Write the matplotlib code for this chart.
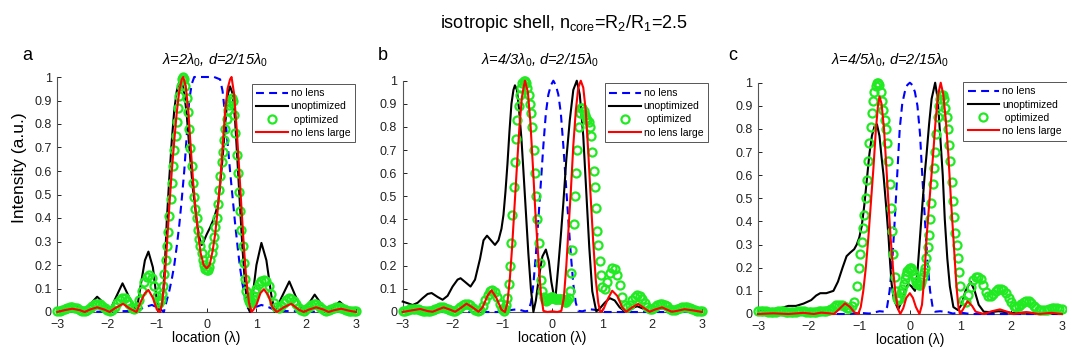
import numpy as np
import matplotlib
matplotlib.use("Agg")
from matplotlib import pyplot as plt

plt.rcParams['font.family'] = ['Liberation Sans', 'DejaVu Sans']
plt.rcParams['mathtext.fontset'] = 'custom'
plt.rcParams['mathtext.rm'] = 'Liberation Sans'
plt.rcParams['mathtext.it'] = 'Liberation Sans:italic'

# ---------------- data ----------------
titles = ['λ=2λ$_0$, d=2/15λ$_0$', 'λ=4/3λ$_0$, d=2/15λ$_0$', 'λ=4/5λ$_0$, d=2/15λ$_0$']
letters = ['a', 'b', 'c']
labels = ['no lens', 'unoptimized', ' optimized', 'no lens large']

# panel a
nolens_a_x = [-3.0, -2.7, -2.4, -1.8, -1.4, -1.25, -1.1, -0.95, -0.86, -0.8, -0.75, -0.7, -0.65, -0.6, -0.55,
              -0.5, -0.45, -0.4, -0.35, -0.3, -0.25, -0.15, 0.0, 0.15, 0.27, 0.32, 0.37, 0.42, 0.47, 0.52,
              0.57, 0.62, 0.67, 0.72, 0.77, 0.82, 0.88, 0.97, 1.1, 1.25, 1.4, 1.8, 2.4, 2.7, 3.0]
nolens_a_y = [0.0, 0.01, 0.0, 0.003, 0.005, 0.02, 0.03, 0.015, 0.0, 0.05, 0.09, 0.14, 0.2, 0.28, 0.37,
              0.48, 0.6, 0.75, 0.9, 0.97, 1.0, 1.0, 1.0, 1.0, 0.99, 0.94, 0.84, 0.72, 0.6, 0.49,
              0.38, 0.28, 0.19, 0.12, 0.06, 0.02, 0.0, 0.02, 0.03, 0.02, 0.005, 0.003, 0.0, 0.01, 0.0]
unopt_a_x = [-3.0, -2.85, -2.7, -2.55, -2.45, -2.35, -2.2, -2.05, -1.95, -1.85, -1.69, -1.55, -1.41, -1.32,
             -1.24, -1.17, -1.08, -1.0, -0.94, -0.88, -0.84, -0.8, -0.75, -0.7, -0.65, -0.6, -0.55, -0.5,
             -0.45, -0.4, -0.34, -0.28, -0.2, -0.15, -0.1, -0.06, 0.0, 0.07, 0.15, 0.23, 0.28, 0.33, 0.38,
             0.43, 0.47, 0.52, 0.57, 0.62, 0.67, 0.72, 0.77, 0.82, 0.87, 0.93, 1.0, 1.1, 1.2, 1.3, 1.37,
             1.5, 1.66, 1.8, 1.94, 2.05, 2.17, 2.3, 2.45, 2.55, 2.67, 2.8, 2.9, 3.0]
unopt_a_y = [0.0, 0.02, 0.035, 0.02, 0.002, 0.03, 0.065, 0.035, 0.003, 0.05, 0.122, 0.06, 0.0, 0.12,
             0.22, 0.257, 0.19, 0.05, 0.0, 0.06, 0.2, 0.39, 0.57, 0.73, 0.86, 0.94, 0.98, 0.98,
             0.93, 0.84, 0.68, 0.53, 0.39, 0.32, 0.285, 0.3, 0.33, 0.36, 0.4, 0.46, 0.56, 0.68, 0.82,
             0.93, 0.96, 0.93, 0.82, 0.64, 0.45, 0.27, 0.12, 0.03, 0.0, 0.08, 0.2, 0.294, 0.22, 0.07, 0.0,
             0.06, 0.13, 0.06, 0.0, 0.035, 0.074, 0.035, 0.0, 0.02, 0.044, 0.02, 0.003, 0.01]
large_a_x = [-3.0, -2.85, -2.7, -2.55, -2.45, -2.35, -2.2, -2.05, -1.95, -1.85, -1.68, -1.55, -1.41, -1.32,
             -1.24, -1.17, -1.08, -1.0, -0.94, -0.9, -0.85, -0.8, -0.75, -0.7, -0.65, -0.6, -0.55, -0.5,
             -0.47, -0.42, -0.37, -0.32, -0.27, -0.22, -0.17, -0.12, -0.06, 0.0, 0.06, 0.12, 0.17, 0.22,
             0.27, 0.32, 0.37, 0.42, 0.47, 0.5, 0.55, 0.6, 0.65, 0.7, 0.75, 0.8, 0.85, 0.9, 0.94, 1.0,
             1.08, 1.15, 1.24, 1.32, 1.41, 1.55, 1.7, 1.85, 1.95, 2.05, 2.2, 2.35, 2.45, 2.55, 2.7, 2.85, 3.0]
large_a_y = [0.0, 0.008, 0.014, 0.008, 0.0, 0.01, 0.02, 0.01, 0.0, 0.015, 0.035, 0.015, 0.0, 0.045,
             0.08, 0.094, 0.06, 0.01, 0.0, 0.03, 0.12, 0.28, 0.45, 0.6, 0.73, 0.85, 0.94, 0.99,
             1.0, 0.96, 0.86, 0.7, 0.55, 0.43, 0.33, 0.25, 0.2, 0.186, 0.2, 0.26, 0.33, 0.43,
             0.55, 0.7, 0.85, 0.95, 0.99, 1.0, 0.93, 0.79, 0.62, 0.44, 0.27, 0.13, 0.04, 0.0, 0.01, 0.03,
             0.08, 0.097, 0.07, 0.02, 0.0, 0.02, 0.035, 0.01, 0.0, 0.01, 0.02, 0.01, 0.0, 0.007, 0.014, 0.006, 0.0]
opt_a = ([0.005, 0.005, 0.008, 0.013, 0.018, 0.02, 0.021, 0.019, 0.015, 0.01,
          0.006, 0.005, 0.008, 0.015, 0.024, 0.032, 0.036, 0.034, 0.027, 0.018,
          0.01, 0.006, 0.01, 0.022, 0.038, 0.052, 0.06, 0.058, 0.047, 0.032,
          0.018, 0.012, 0.022, 0.05, 0.09, 0.127, 0.15, 0.157, 0.145, 0.11,
          0.07]
         + [0.045, 0.04, 0.05, 0.075, 0.11, 0.16, 0.22, 0.28, 0.34, 0.41,
            0.48, 0.55, 0.62, 0.69, 0.75, 0.81, 0.87, 0.92, 0.96, 0.99,
            1.0, 0.99, 0.96, 0.91, 0.85, 0.78, 0.7, 0.62, 0.55, 0.49,
            0.44, 0.4, 0.35, 0.31, 0.28, 0.25, 0.22, 0.2, 0.185, 0.178,
            0.18, 0.19, 0.22, 0.25, 0.28, 0.32, 0.36, 0.4, 0.46, 0.52,
            0.58, 0.64, 0.68, 0.73, 0.78, 0.82, 0.86, 0.88, 0.9, 0.91,
            0.9, 0.84, 0.76, 0.67, 0.59, 0.51, 0.43, 0.35, 0.28, 0.21,
            0.14, 0.09, 0.06, 0.045, 0.04, 0.045, 0.055, 0.07, 0.085]
         + [0.1, 0.12, 0.133, 0.138, 0.13, 0.11, 0.075, 0.04, 0.02, 0.015,
            0.025, 0.04, 0.052, 0.058, 0.056, 0.047, 0.033, 0.018, 0.008, 0.006,
            0.012, 0.022, 0.03, 0.034, 0.032, 0.025, 0.016, 0.009, 0.005, 0.007,
            0.012, 0.018, 0.021, 0.021, 0.018, 0.013, 0.008, 0.005, 0.005, 0.006,
            0.006])

# panel b
nolens_b_x = [-3.0, -1.0, -0.85, -0.7, -0.55, -0.48, -0.43, -0.38, -0.33, -0.28, -0.23, -0.18, -0.13, -0.08,
              -0.03, 0.02, 0.07, 0.12, 0.17, 0.22, 0.27, 0.32, 0.37, 0.42, 0.47, 0.52, 0.6, 0.75, 0.9, 1.05, 3.0]
nolens_b_y = [0.0, 0.0, 0.008, 0.012, 0.003, 0.005, 0.04, 0.12, 0.25, 0.4, 0.56, 0.72, 0.86, 0.94,
              0.98, 1.0, 0.98, 0.94, 0.86, 0.72, 0.56, 0.4, 0.25, 0.12, 0.04, 0.005, 0.003, 0.012, 0.008, 0.0, 0.0]
unopt_b_x = [-3.0, -2.9, -2.8, -2.7, -2.6, -2.5, -2.42, -2.3, -2.2, -2.1, -2.0, -1.9, -1.84, -1.75, -1.64,
             -1.55, -1.45, -1.38, -1.31, -1.23, -1.15, -1.08, -1.02, -0.98, -0.94, -0.9, -0.86, -0.82, -0.78,
             -0.75, -0.71, -0.67, -0.62, -0.58, -0.53, -0.48, -0.43, -0.38, -0.33, -0.27, -0.2, -0.13, -0.07,
             -0.02, 0.03, 0.07, 0.12, 0.17, 0.22, 0.28, 0.35, 0.42, 0.49, 0.55, 0.62, 0.68, 0.74, 0.8, 0.88,
             0.95, 1.05, 1.15, 1.25, 1.35, 1.45, 1.55, 1.7, 1.85, 1.95, 2.05, 2.2, 2.35, 2.45, 2.55, 2.7,
             2.85, 3.0]
unopt_b_y = [0.045, 0.038, 0.03, 0.04, 0.06, 0.078, 0.082, 0.065, 0.053, 0.07, 0.11, 0.14, 0.146, 0.13, 0.11,
             0.14, 0.23, 0.31, 0.33, 0.31, 0.29, 0.31, 0.36, 0.42, 0.52, 0.64, 0.78, 0.9, 0.96,
             0.98, 0.96, 0.88, 0.75, 0.61, 0.43, 0.25, 0.1, 0.0, 0.05, 0.15, 0.24, 0.27, 0.22,
             0.13, 0.07, 0.08, 0.2, 0.33, 0.47, 0.66, 0.83, 0.96, 1.0, 0.94, 0.76, 0.52, 0.28, 0.09, 0.003,
             0.015, 0.04, 0.06, 0.05, 0.02, 0.003, 0.012, 0.025, 0.012, 0.003, 0.008, 0.016, 0.008, 0.002, 0.005,
             0.01, 0.005, 0.002]
large_b_x = [-3.0, -2.85, -2.65, -2.5, -2.4, -2.3, -2.18, -2.05, -1.95, -1.85, -1.72, -1.6, -1.48, -1.4,
             -1.3, -1.22, -1.12, -1.02, -0.95, -0.9, -0.85, -0.81, -0.76, -0.71, -0.66, -0.61, -0.55, -0.49,
             -0.44, -0.39, -0.34, -0.28, -0.23, -0.18, -0.1, 0.0, 0.1, 0.18, 0.23, 0.28, 0.33, 0.37, 0.42,
             0.47, 0.52, 0.57, 0.62, 0.67, 0.72, 0.77, 0.82, 0.87, 0.92, 0.96, 1.02, 1.12, 1.2, 1.3, 1.4,
             1.48, 1.6, 1.72, 1.85, 1.95, 2.05, 2.2, 2.3, 2.4, 2.5, 2.65, 2.85, 3.0]
large_b_y = [0.0, 0.006, 0.013, 0.004, 0.001, 0.01, 0.02, 0.01, 0.001, 0.015, 0.036, 0.02, 0.001, 0.02,
             0.07, 0.094, 0.06, 0.01, 0.0, 0.04, 0.15, 0.27, 0.45, 0.63, 0.8, 0.93, 1.0, 0.95,
             0.82, 0.63, 0.43, 0.23, 0.08, 0.005, 0.0, 0.003, 0.0, 0.005, 0.06, 0.2, 0.38, 0.52, 0.72,
             0.87, 0.97, 1.0, 0.97, 0.87, 0.69, 0.49, 0.3, 0.14, 0.04, 0.0, 0.01, 0.06, 0.092, 0.07, 0.02,
             0.001, 0.02, 0.035, 0.015, 0.001, 0.01, 0.02, 0.01, 0.001, 0.005, 0.012, 0.006, 0.0]
opt_b = ([0.003, 0.005, 0.008, 0.011, 0.012, 0.012, 0.011, 0.009, 0.006, 0.004,
          0.004, 0.006, 0.01, 0.015, 0.019, 0.021, 0.02, 0.017, 0.012, 0.007,
          0.004, 0.006, 0.013, 0.023, 0.031, 0.036, 0.035, 0.029, 0.019, 0.009,
          0.005, 0.01, 0.025, 0.05, 0.075, 0.092, 0.097, 0.088, 0.065, 0.035,
          0.012]
         + [0.006, 0.012, 0.03, 0.06, 0.12, 0.2, 0.3, 0.42, 0.54, 0.65,
            0.75, 0.83, 0.89, 0.94, 0.97, 0.99, 1.0, 1.0, 0.99, 0.97,
            0.94, 0.9, 0.86, 0.8, 0.7, 0.6, 0.5, 0.4, 0.3, 0.21,
            0.14, 0.09, 0.065, 0.052, 0.048, 0.052, 0.058, 0.062, 0.064, 0.063,
            0.06, 0.057, 0.055, 0.055, 0.056, 0.058, 0.058, 0.055, 0.05, 0.045,
            0.045, 0.05, 0.06, 0.09, 0.17, 0.27, 0.38, 0.5, 0.6, 0.7,
            0.8, 0.86, 0.88, 0.88, 0.87, 0.85, 0.84, 0.83, 0.82, 0.8,
            0.76, 0.69, 0.61, 0.54, 0.45, 0.35, 0.29, 0.22, 0.16]
         + [0.11, 0.1, 0.13, 0.17, 0.19, 0.185, 0.16, 0.115, 0.065, 0.03,
            0.02, 0.03, 0.05, 0.066, 0.072, 0.068, 0.055, 0.037, 0.02, 0.011,
            0.012, 0.02, 0.029, 0.035, 0.036, 0.032, 0.024, 0.015, 0.009, 0.008,
            0.011, 0.016, 0.02, 0.022, 0.021, 0.017, 0.012, 0.008, 0.006, 0.006,
            0.005])

# panel c
nolens_c_x = [-3.0, -1.2, -1.0, -0.8, -0.6, -0.5, -0.45, -0.4, -0.35, -0.3, -0.25, -0.2, -0.15, -0.1, -0.05,
              0.0, 0.05, 0.1, 0.15, 0.2, 0.25, 0.3, 0.35, 0.4, 0.45, 0.5, 0.6, 0.75, 0.85, 1.0, 1.2, 3.0]
nolens_c_y = [0.0, 0.0, 0.005, 0.002, 0.012, 0.01, 0.03, 0.1, 0.22, 0.4, 0.6, 0.8, 0.91, 0.96, 0.99,
              1.0, 0.99, 0.96, 0.9, 0.78, 0.58, 0.4, 0.22, 0.1, 0.03, 0.01, 0.012, 0.008, 0.002, 0.006, 0.0, 0.0]
unopt_c_x = [-3.0, -2.75, -2.55, -2.4, -2.25, -2.1, -1.95, -1.85, -1.77, -1.65, -1.51, -1.42, -1.33, -1.25,
             -1.18, -1.1, -1.05, -1.0, -0.95, -0.9, -0.85, -0.8, -0.75, -0.7, -0.65, -0.6, -0.56, -0.52,
             -0.47, -0.42, -0.39, -0.36, -0.32, -0.29, -0.23, -0.17, -0.1, -0.03, 0.03, 0.1, 0.15, 0.2,
             0.25, 0.3, 0.33, 0.38, 0.43, 0.5, 0.55, 0.6, 0.65, 0.69, 0.74, 0.79, 0.86, 0.95, 1.02, 1.1,
             1.2, 1.28, 1.36, 1.46, 1.6, 1.75, 1.9, 2.05, 2.3, 2.55, 2.8, 3.0]
unopt_c_y = [0.015, 0.02, 0.025, 0.035, 0.035, 0.045, 0.06, 0.08, 0.09, 0.09, 0.1, 0.14, 0.2, 0.25,
             0.265, 0.28, 0.3, 0.33, 0.38, 0.47, 0.58, 0.69, 0.77, 0.81, 0.82, 0.77, 0.68, 0.6,
             0.47, 0.33, 0.22, 0.13, 0.07, 0.05, 0.02, 0.05, 0.1, 0.13, 0.12, 0.1, 0.18, 0.33,
             0.48, 0.62, 0.69, 0.82, 0.93, 1.0, 0.93, 0.77, 0.6, 0.41, 0.24, 0.12, 0.03, 0.017, 0.04, 0.1,
             0.14, 0.1, 0.04, 0.01, 0.008, 0.012, 0.008, 0.004, 0.006, 0.003, 0.003, 0.0]
large_c_x = [-3.0, -2.7, -2.4, -2.1, -1.9, -1.75, -1.6, -1.5, -1.4, -1.28, -1.18, -1.1, -1.02, -0.97,
             -0.92, -0.87, -0.82, -0.77, -0.72, -0.67, -0.63, -0.6, -0.56, -0.51, -0.46, -0.42, -0.38, -0.33,
             -0.28, -0.23, -0.19, -0.13, -0.07, 0.0, 0.06, 0.12, 0.19, 0.24, 0.29, 0.33, 0.38, 0.42, 0.46,
             0.51, 0.56, 0.61, 0.66, 0.71, 0.76, 0.81, 0.86, 0.92, 0.96, 0.99, 1.05, 1.14, 1.23, 1.3, 1.46,
             1.62, 1.78, 1.92, 2.05, 2.3, 2.55, 2.8, 3.0]
large_c_y = [0.0, 0.003, 0.0, 0.005, 0.0, 0.006, 0.003, 0.0, 0.02, 0.046, 0.03, 0.008, 0.0, 0.03,
             0.1, 0.2, 0.33, 0.48, 0.63, 0.8, 0.9, 0.94, 0.91, 0.8, 0.62, 0.47, 0.33, 0.19,
             0.08, 0.02, 0.0, 0.025, 0.07, 0.09, 0.07, 0.03, 0.0, 0.04, 0.17, 0.33, 0.47, 0.58, 0.69,
             0.84, 0.95, 1.0, 0.95, 0.84, 0.69, 0.5, 0.33, 0.12, 0.03, 0.0, 0.02, 0.055, 0.035, 0.01, 0.0,
             0.012, 0.02, 0.01, 0.0, 0.008, 0.0, 0.005, 0.0]
opt_c = ([0.015, 0.015, 0.014, 0.012, 0.01, 0.009, 0.009, 0.01, 0.012, 0.013,
          0.012, 0.01, 0.008, 0.007, 0.008, 0.01, 0.012, 0.013, 0.012, 0.01,
          0.008, 0.007, 0.008, 0.01, 0.013, 0.015, 0.015, 0.014, 0.016, 0.022,
          0.03, 0.037, 0.04, 0.039, 0.033, 0.025, 0.025, 0.035, 0.05, 0.12,
          0.2]
         + [0.26, 0.31, 0.37, 0.43, 0.5, 0.58, 0.66, 0.74, 0.81, 0.87,
            0.92, 0.96, 0.985, 1.0, 1.0, 0.99, 0.96, 0.92, 0.88, 0.84,
            0.8, 0.74, 0.66, 0.56, 0.46, 0.36, 0.26, 0.16, 0.1, 0.07,
            0.06, 0.07, 0.09, 0.11, 0.13, 0.15, 0.17, 0.185, 0.195, 0.2,
            0.2, 0.19, 0.175, 0.155, 0.14, 0.13, 0.125, 0.125, 0.14, 0.16,
            0.18, 0.2, 0.24, 0.29, 0.34, 0.41, 0.48, 0.56, 0.63, 0.7,
            0.78, 0.85, 0.9, 0.93, 0.945, 0.945, 0.93, 0.89, 0.85, 0.8,
            0.73, 0.66, 0.57, 0.49, 0.42, 0.35, 0.3, 0.24, 0.18]
         + [0.12, 0.06, 0.05, 0.08, 0.115, 0.145, 0.158, 0.16, 0.15, 0.125,
            0.095, 0.078, 0.078, 0.088, 0.1, 0.108, 0.11, 0.105, 0.09, 0.07,
            0.05, 0.036, 0.03, 0.033, 0.042, 0.053, 0.058, 0.055, 0.047, 0.036,
            0.026, 0.019, 0.016, 0.016, 0.018, 0.021, 0.024, 0.025, 0.025, 0.023,
            0.02])

# sample positions of the "optimized" markers (finer in the centre)
opt_x = np.round(np.concatenate([np.arange(-3.0, -0.999, 0.05),
                                 np.arange(-0.975, 0.9751, 0.025),
                                 np.arange(1.0, 3.0001, 0.05)]), 3)

panels = [
    (nolens_a_x, nolens_a_y, unopt_a_x, unopt_a_y, opt_a, large_a_x, large_a_y),
    (nolens_b_x, nolens_b_y, unopt_b_x, unopt_b_y, opt_b, large_b_x, large_b_y),
    (nolens_c_x, nolens_c_y, unopt_c_x, unopt_c_y, opt_c, large_c_x, large_c_y),
]

# ---------------- layout ----------------
W, H = 1067, 356
fig = plt.figure(figsize=(W / 100, H / 100), dpi=100)

# axes boxes in pixels: left, right, top, bottom
boxes = [(57.3, 356.0, 77.0, 312.0), (402.7, 702.0, 80.7, 312.0), (758.0, 1061.7, 82.7, 314.0)]
legend_anchor = [(0.997, 0.972), (1.02, 0.988), (1.016, 1.004)]
title_x = [215, 540, 890]
letter_x = [27, 383, 733]

green = '#22ea22'
for i, (bx, by, kx, ky, gy, rx, ry) in enumerate(panels):
    l, r, t, b = boxes[i]
    ax = fig.add_axes([l / W, 1 - b / H, (r - l) / W, (b - t) / H])
    ax.plot(bx, by, color='#0000ff', lw=1.5, ls=(0, (3.8, 2.5)), label=labels[0], clip_on=False, zorder=3)
    ax.plot(kx, ky, color='black', lw=1.5, label=labels[1], clip_on=False, zorder=4)
    ax.plot(opt_x, gy, ls='none', marker='o', ms=5.8, mfc='none', mec=green, mew=1.6,
            label=labels[2], clip_on=False, zorder=5)
    ax.plot(rx, ry, color='#ff0000', lw=1.5, label=labels[3], clip_on=False, zorder=6)

    ax.set_xlim(-3, 3)
    ax.set_ylim(0, 1)
    ax.set_xticks([-3, -2, -1, 0, 1, 2, 3])
    ax.set_yticks(np.arange(0, 1.01, 0.1))
    ax.set_yticklabels(['0', '0.1', '0.2', '0.3', '0.4', '0.5', '0.6', '0.7', '0.8', '0.9', '1'])
    ax.tick_params(direction='in', length=3, width=0.7, labelsize=9, colors='#222222')
    ax.tick_params(axis='x', pad=5)
    ax.tick_params(axis='y', pad=4)
    for s in ('top', 'right'):
        ax.spines[s].set_visible(False)
    for s in ('left', 'bottom'):
        ax.spines[s].set_linewidth(0.8)
        ax.spines[s].set_color('#555555')
    ax.set_xlabel('location (λ)', fontsize=10, labelpad=0)

    leg = ax.legend(loc='upper right', bbox_to_anchor=legend_anchor[i], borderaxespad=0,
                    fontsize=7.5, handlelength=3.0, handletextpad=0.3, borderpad=0.45,
                    labelspacing=0.3, numpoints=1, fancybox=False, framealpha=1)
    leg.get_frame().set_edgecolor('#555555')
    leg.get_frame().set_linewidth(0.7)
    leg.set_zorder(10)

    fig.text(title_x[i] / W, 1 - 60 / H, titles[i], ha='center', va='center', fontsize=10.5, style='italic')
    fig.text(letter_x[i] / W, 1 - 56 / H, letters[i], ha='center', va='center', fontsize=13)

fig.text(20 / W, 1 - 168 / H, 'Intensity (a.u.)', rotation=90, ha='center', va='center', fontsize=12.5)
fig.text(564 / W, 1 - 23 / H, 'isotropic shell, n$_{\\mathrm{core}}$=R$_2$/R$_1$=2.5',
         ha='center', va='center', fontsize=13)

fig.savefig('out.png', dpi=100)
